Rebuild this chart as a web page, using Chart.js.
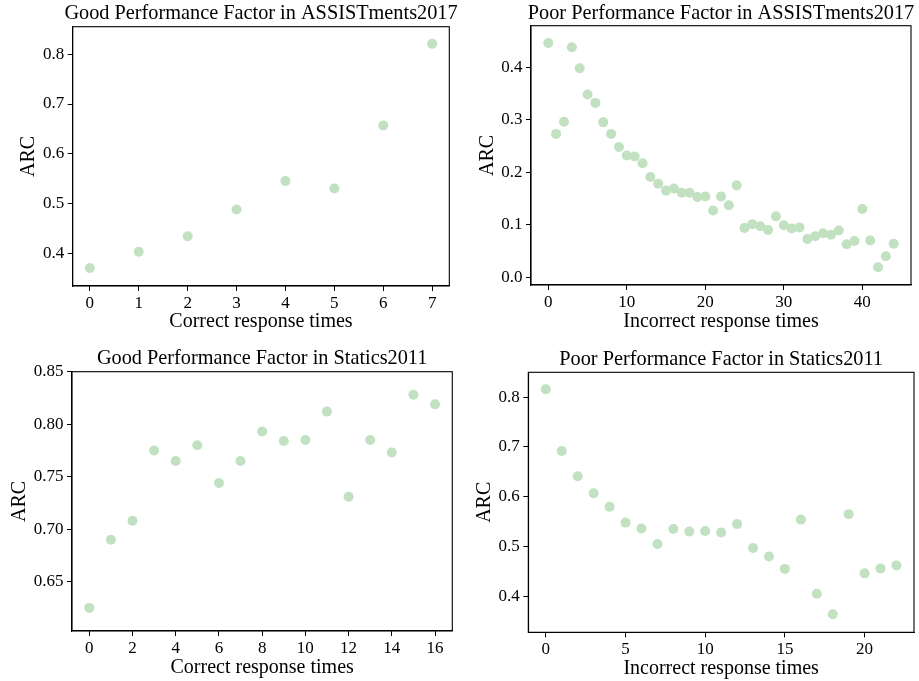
<!DOCTYPE html>
<html>
<head>
<meta charset="utf-8">
<script src="https://cdn.jsdelivr.net/npm/chart.js@4"></script>
<style>
  html, body { margin: 0; padding: 0; background: #fff; }
  #wrap { position: relative; width: 919px; height: 681px; overflow: hidden; }
  #wrap canvas { position: absolute; }
</style>
</head>
<body>
<div id="wrap">
  <canvas id="c1" width="460" height="340" style="left:0;top:0;"></canvas>
  <canvas id="c2" width="459" height="340" style="left:460px;top:0;"></canvas>
  <canvas id="c3" width="460" height="341" style="left:0;top:340px;"></canvas>
  <canvas id="c4" width="459" height="341" style="left:460px;top:340px;"></canvas>
</div>
<script>
/* ---- data ---- */
const goodAssistX   = [0, 1, 2, 3, 4, 5, 6, 7];
const goodAssistArc = [0.370, 0.403, 0.434, 0.488, 0.545, 0.530, 0.657, 0.821];

const poorAssistX   = Array.from({ length: 45 }, (_, i) => i);
const poorAssistArc = [0.446, 0.273, 0.296, 0.438, 0.398, 0.348, 0.332, 0.295, 0.273, 0.248,
                       0.232, 0.230, 0.217, 0.191, 0.178, 0.165, 0.169, 0.161, 0.161, 0.153,
                       0.154, 0.127, 0.154, 0.137, 0.175, 0.094, 0.101, 0.097, 0.090, 0.116,
                       0.099, 0.093, 0.095, 0.073, 0.078, 0.084, 0.081, 0.089, 0.063, 0.069,
                       0.130, 0.070, 0.019, 0.040, 0.064];

const goodStaticsX   = Array.from({ length: 17 }, (_, i) => i);
const goodStaticsArc = [0.625, 0.690, 0.708, 0.775, 0.765, 0.780, 0.744, 0.765, 0.793, 0.784,
                        0.785, 0.812, 0.731, 0.785, 0.773, 0.828, 0.819];

const poorStaticsX   = Array.from({ length: 23 }, (_, i) => i);
const poorStaticsArc = [0.816, 0.692, 0.641, 0.607, 0.580, 0.548, 0.536, 0.505, 0.535, 0.530,
                        0.531, 0.528, 0.545, 0.497, 0.480, 0.455, 0.554, 0.405, 0.364, 0.565,
                        0.446, 0.456, 0.462];

const xTicks1 = [0, 1, 2, 3, 4, 5, 6, 7];
const yTicks1 = [0.4, 0.5, 0.6, 0.7, 0.8];
const yLabels1 = ['0.4', '0.5', '0.6', '0.7', '0.8'];

const xTicks2 = [0, 10, 20, 30, 40];
const yTicks2 = [0.0, 0.1, 0.2, 0.3, 0.4];
const yLabels2 = ['0.0', '0.1', '0.2', '0.3', '0.4'];

const xTicks3 = [0, 2, 4, 6, 8, 10, 12, 14, 16];
const yTicks3 = [0.65, 0.70, 0.75, 0.80, 0.85];
const yLabels3 = ['0.65', '0.70', '0.75', '0.80', '0.85'];

const xTicks4 = [0, 5, 10, 15, 20];
const yTicks4 = [0.4, 0.5, 0.6, 0.7, 0.8];
const yLabels4 = ['0.4', '0.5', '0.6', '0.7', '0.8'];

/* ---- styling ---- */
const FONT = "'Liberation Serif', 'Times New Roman', serif";
const DOT = 'rgb(193,225,193)';

// black frame around the plot area + a title centred on the axes (may overhang them, like matplotlib)
const framePlugin = {
  id: 'frame',
  afterDraw(chart, args, opts) {
    const { ctx, chartArea: a } = chart;
    ctx.save();
    ctx.strokeStyle = '#000';
    ctx.lineWidth = 1.1;
    ctx.strokeRect(a.left, a.top, a.right - a.left, a.bottom - a.top);
    ctx.fillStyle = '#000';
    ctx.font = `20.3px ${FONT}`;
    ctx.textAlign = 'center';
    ctx.textBaseline = 'middle';
    ctx.fillText(opts.text, (a.left + a.right) / 2, opts.y);
    ctx.restore();
  }
};

function makePanel(id, cfg) {
  const xs = cfg.x, ys = cfg.y;
  const l = cfg.box;  // [left, top, right, bottom] of the plot area inside the canvas
  const canvas = document.getElementById(id);
  return new Chart(canvas.getContext('2d'), {
    type: 'scatter',
    data: {
      datasets: [{
        data: xs.map((x, i) => ({ x, y: ys[i] })),
        backgroundColor: DOT,
        borderWidth: 0,
        pointRadius: 5,
        pointHoverRadius: 5
      }]
    },
    plugins: [framePlugin],
    options: {
      responsive: false,
      animation: false,
      devicePixelRatio: 1,
      layout: { padding: { left: 0, top: l[1], right: canvas.width - l[2], bottom: 0 } },
      plugins: {
        legend: { display: false },
        tooltip: { enabled: false },
        title: { display: false },
        frame: { text: cfg.title, y: cfg.titleY }
      },
      scales: {
        x: {
          type: 'linear',
          min: cfg.xRange[0], max: cfg.xRange[1],
          afterBuildTicks: s => { s.ticks = cfg.xTicks.map(v => ({ value: v })); },
          afterFit: s => { s.height = canvas.height - l[3]; },
          ticks: { color: '#000', font: { family: FONT, size: 17 }, padding: 2, maxRotation: 0,
                   callback: v => String(v) },
          grid: { display: true, drawOnChartArea: false, drawTicks: true, tickLength: 5, color: '#000' },
          border: { display: true, color: '#000', width: 1.1 },
          title: { display: true, text: cfg.xTitle, color: '#000',
                   font: { family: FONT, size: 20, lineHeight: 1.2 },
                   padding: { top: 0, bottom: cfg.xTitleBottom } }
        },
        y: {
          type: 'linear',
          min: cfg.yRange[0], max: cfg.yRange[1],
          afterBuildTicks: s => { s.ticks = cfg.yTicks.map(v => ({ value: v })); },
          afterFit: s => { s.width = l[0]; },
          ticks: { color: '#000', font: { family: FONT, size: 17 }, padding: 3.5,
                   callback: (v, i) => cfg.yLabels[i] },
          grid: { display: true, drawOnChartArea: false, drawTicks: true, tickLength: 5, color: '#000' },
          border: { display: true, color: '#000', width: 1.1 },
          title: { display: true, text: 'ARC', color: '#000',
                   font: { family: FONT, size: 20, lineHeight: 1.2 },
                   padding: { top: cfg.yTitleLeft, bottom: 0 } }
        }
      }
    }
  });
}

makePanel('c1', {
  title: 'Good Performance Factor in ASSISTments2017', xTitle: 'Correct response times',
  x: goodAssistX, y: goodAssistArc,
  xTicks: xTicks1, yTicks: yTicks1, yLabels: yLabels1,
  xRange: [-0.35, 7.35], yRange: [0.334, 0.8555],
  box: [72.7, 26.7, 449.3, 286], titleY: 14, xTitleBottom: 6.3, yTitleLeft: 16.5
});

makePanel('c2', {
  title: 'Poor Performance Factor in ASSISTments2017', xTitle: 'Incorrect response times',
  x: poorAssistX, y: poorAssistArc,
  xTicks: xTicks2, yTicks: yTicks2, yLabels: yLabels2,
  xRange: [-2.2, 46.2], yRange: [-0.0147, 0.479],
  box: [71, 25.7, 451, 285], titleY: 13.3, xTitleBottom: 6.3, yTitleLeft: 15.5
});

makePanel('c3', {
  title: 'Good Performance Factor in Statics2011', xTitle: 'Correct response times',
  x: goodStaticsX, y: goodStaticsArc,
  xTicks: xTicks3, yTicks: yTicks3, yLabels: yLabels3,
  xRange: [-0.8, 16.8], yRange: [0.603, 0.85],
  box: [72, 31.7, 452.3, 291], titleY: 19, xTitleBottom: 1.3, yTitleLeft: 8
});

makePanel('c4', {
  title: 'Poor Performance Factor in Statics2011', xTitle: 'Incorrect response times',
  x: poorStaticsX, y: poorStaticsArc,
  xTicks: xTicks4, yTicks: yTicks4, yLabels: yLabels4,
  xRange: [-1.1, 23.1], yRange: [0.3276, 0.85],
  box: [68.3, 32.3, 458.3, 292.3], titleY: 20, xTitleBottom: 0.7, yTitleLeft: 13
});
</script>
</body>
</html>
